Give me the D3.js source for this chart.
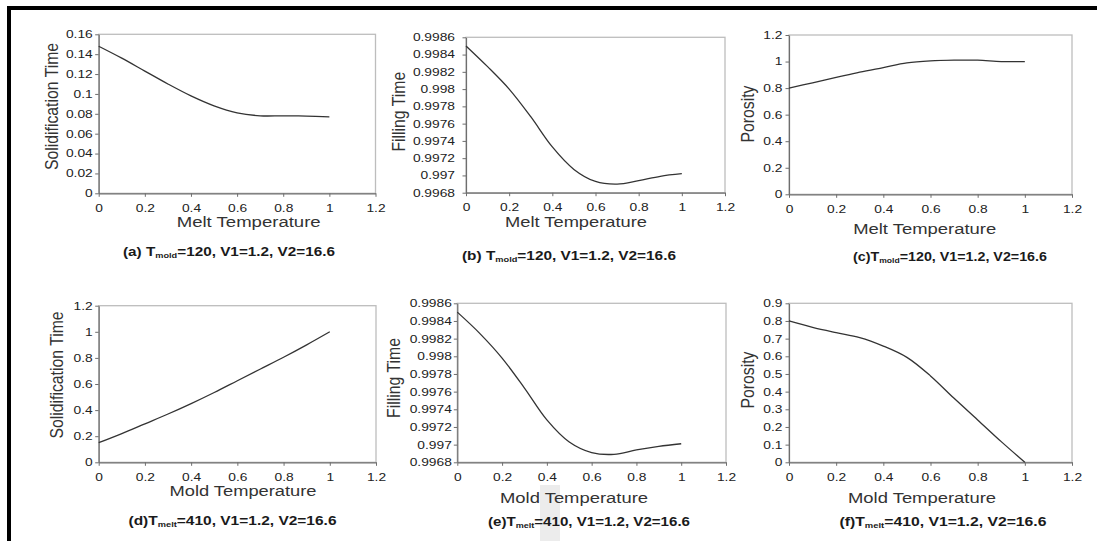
<!DOCTYPE html>
<html><head><meta charset="utf-8">
<script src="https://cdn.jsdelivr.net/npm/d3@7"></script>
<style>
body{margin:0;background:#fff;}
svg{display:block;font-family:"Liberation Sans",Arial,sans-serif;}
</style></head><body>
<svg id="c" width="1097" height="541"></svg>
<script>
// ---------------- data ----------------
const xValues = [0, 0.1, 0.2, 0.3, 0.4, 0.5, 0.6, 0.7, 0.8, 0.9, 1.0];
const xTicks = [0, 0.2, 0.4, 0.6, 0.8, 1, 1.2];

const solidMelt = [0.148, 0.136, 0.123, 0.110, 0.098, 0.088, 0.081, 0.078, 0.078, 0.0777, 0.077];
const fillMelt  = [0.99850, 0.99826, 0.99800, 0.99768, 0.99733, 0.99707, 0.99693, 0.99690, 0.99694, 0.99699, 0.99702];
const poroMelt  = [0.80, 0.84, 0.88, 0.92, 0.955, 0.99, 1.005, 1.01, 1.01, 1.0, 1.0];
const solidMold = [0.15, 0.22, 0.295, 0.37, 0.45, 0.535, 0.625, 0.715, 0.805, 0.90, 1.0];
const fillMold  = [0.99850, 0.99826, 0.99798, 0.99764, 0.99728, 0.99703, 0.99691, 0.99689, 0.99694, 0.99698, 0.99701];
const poroMold  = [0.80, 0.764, 0.734, 0.706, 0.658, 0.594, 0.489, 0.362, 0.240, 0.117, 0.0];

const yTicksSolidMelt = [0, 0.02, 0.04, 0.06, 0.08, 0.1, 0.12, 0.14, 0.16];
const yTicksFill = [0.9968, 0.997, 0.9972, 0.9974, 0.9976, 0.9978, 0.998, 0.9982, 0.9984, 0.9986];
const yTicks12 = [0, 0.2, 0.4, 0.6, 0.8, 1, 1.2];
const yTicks09 = [0, 0.1, 0.2, 0.3, 0.4, 0.5, 0.6, 0.7, 0.8, 0.9];

const yTitles = ["Solidification Time", "Filling Time", "Porosity", "Solidification Time", "Filling Time", "Porosity"];
const xTitles = ["Melt Temperature", "Melt Temperature", "Melt Temperature", "Mold Temperature", "Mold Temperature", "Mold Temperature"];
const captionPrefix = ["(a) T", "(b) T", "(c)T", "(d)T", "(e)T", "(f)T"];
const captionSub = ["mold", "mold", "mold", "melt", "melt", "melt"];
const captionRest = ["=120, V1=1.2, V2=16.6", "=120, V1=1.2, V2=16.6", "=120, V1=1.2, V2=16.6",
                     "=410, V1=1.2, V2=16.6", "=410, V1=1.2, V2=16.6", "=410, V1=1.2, V2=16.6"];

const seriesList = [solidMelt, fillMelt, poroMelt, solidMold, fillMold, poroMold];
const yTickList = [yTicksSolidMelt, yTicksFill, yTicks12, yTicks12, yTicksFill, yTicks09];

// ---------------- layout ----------------
const layout = [
  {l:98.7, t:34.3, r:375.5, b:193.3, pad:5,  ytx:52,  yty:106.5, xtx:248.7, xty:227,   xw:144, cx:229,   cy:255.5, cw:212},
  {l:466,  t:37.3, r:725,   b:192.7, pad:10, ytx:399, yty:111.7, xtx:576,   xty:226.5, xw:142, cx:569,   cy:259.5, cw:214},
  {l:789,  t:35,   r:1072,  b:194.3, pad:5.5,ytx:747.7,yty:114,  xtx:924.7, xty:234,   xw:143, cx:950,   cy:260.5, cw:194},
  {l:98.7, t:305.7,r:376,   b:462.3, pad:5,  ytx:57,  yty:375,   xtx:243,   xty:495.5, xw:147, cx:232.5, cy:524.5, cw:208},
  {l:457.3,t:303.3,r:726,   b:462.3, pad:4.5,ytx:393.3,yty:378,  xtx:574,   xty:503,   xw:148, cx:589,   cy:525.5, cw:202},
  {l:789,  t:303.3,r:1072,  b:462.3, pad:5.5,ytx:747.3,yty:380,  xtx:922,   xty:503,   xw:148, cx:943,   cy:526,   cw:207}
];

const svg = d3.select("#c");
svg.append("rect").attr("width",1097).attr("height",541).attr("fill","#fff");
// scan artifact band
svg.append("rect").attr("x",540).attr("y",485).attr("width",20).attr("height",56).attr("fill","#ececec");
// outer frame (top & left)
svg.append("rect").attr("x",7).attr("y",6).attr("width",1090).attr("height",4).attr("fill","#000");
svg.append("rect").attr("x",7).attr("y",6).attr("width",4).attr("height",535).attr("fill","#000");

const tickStretch = 1.3;
const fmt = v => String(+v.toFixed(4));

layout.forEach((L, i) => {
  const yt = yTickList[i];
  const x = d3.scaleLinear().domain([0, 1.2]).range([L.l, L.r]);
  const y = d3.scaleLinear().domain([yt[0], yt[yt.length-1]]).range([L.b, L.t]);
  const g = svg.append("g");

  g.append("rect").attr("x",L.l).attr("y",L.t).attr("width",L.r-L.l).attr("height",L.b-L.t)
    .attr("fill","none").attr("stroke","#bdbdbd").attr("stroke-width",1.3);

  const tickLen = 3.5;
  const ax = g.append("g").attr("transform",`translate(0,${L.b})`)
    .call(d3.axisBottom(x).tickValues(xTicks).tickFormat(fmt).tickSize(tickLen).tickSizeOuter(0).tickPadding(7.3));
  const ay = g.append("g").attr("transform",`translate(${L.l},0)`)
    .call(d3.axisLeft(y).tickValues(yt).tickFormat(fmt).tickSize(tickLen).tickSizeOuter(0).tickPadding(L.pad - tickLen + 1));

  [ax, ay].forEach(a => {
    a.select(".domain").attr("stroke","#6e6e6e").attr("stroke-width",1.2);
    a.selectAll(".tick line").attr("stroke","#6e6e6e").attr("stroke-width",1);
    a.selectAll(".tick text").attr("fill","#222").attr("font-size",10.6)
      .attr("font-family","'Liberation Sans', Arial, sans-serif");
  });
  ax.selectAll(".tick text").attr("transform",`scale(${tickStretch},1)`);
  ay.selectAll(".tick text").each(function(){
    const t = d3.select(this);
    const xx = +t.attr("x");
    t.attr("x", xx / tickStretch).attr("transform",`scale(${tickStretch},1)`);
  });

  const line = d3.line().x((d,j) => x(xValues[j])).y(d => y(d)).curve(d3.curveCatmullRom.alpha(0.5));
  g.append("path").datum(seriesList[i]).attr("d", line)
    .attr("fill","none").attr("stroke","#333").attr("stroke-width",1.3);

  // y title
  g.append("text").attr("transform",`translate(${L.ytx},${L.yty}) scale(1.15,1) rotate(-90)`)
    .attr("text-anchor","middle").attr("dy","0.35em").attr("font-size",15.8).attr("fill","#333")
    .text(yTitles[i]);
  // x title
  g.append("text").attr("x",L.xtx).attr("y",L.xty).attr("text-anchor","middle")
    .attr("font-size",15.5).attr("fill","#333")
    .attr("textLength",L.xw).attr("lengthAdjust","spacingAndGlyphs").text(xTitles[i]);
  // caption
  const cap = g.append("text").attr("x",L.cx).attr("y",L.cy).attr("text-anchor","middle")
    .attr("font-size",12.5).attr("font-weight","bold").attr("fill","#1a1a1a")
    .attr("textLength",L.cw).attr("lengthAdjust","spacingAndGlyphs");
  cap.append("tspan").text(captionPrefix[i]);
  cap.append("tspan").attr("font-size",7.5).attr("dy",2).text(captionSub[i]);
  cap.append("tspan").attr("dy",-2).text(captionRest[i]);
});
</script>
</body></html>
